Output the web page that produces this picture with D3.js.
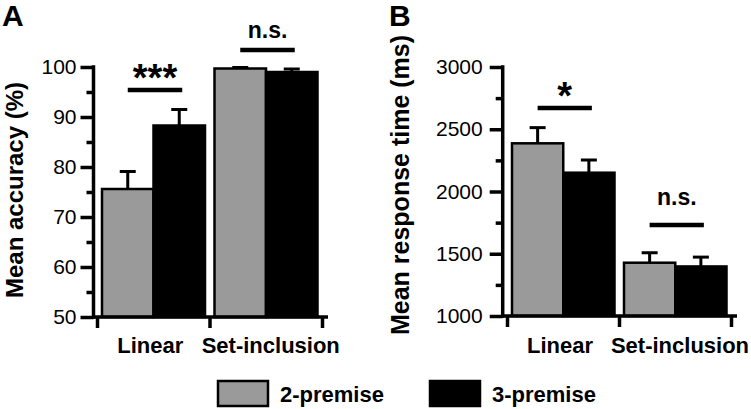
<!DOCTYPE html>
<html><head><meta charset="utf-8">
<script src="https://cdn.jsdelivr.net/npm/d3@7"></script>
<style>
html,body{margin:0;padding:0;background:#fff;}
svg{display:block;font-family:"Liberation Sans",Arial,Helvetica,sans-serif;}
</style></head>
<body>
<svg id="chart" width="751" height="409"></svg>
<script>
// ---- data ----
const categories = ["Linear", "Set-inclusion"];
const seriesNames = ["2-premise", "3-premise"];
const seriesColors = ["#9a9a9a", "#000000"];

const accuracyMean = [[75.6, 99.7], [88.3, 99.0]];   // [series][category]
const accuracySem  = [[3.5, 0.2], [3.2, 0.6]];
const accuracyTicks = [50, 60, 70, 80, 90, 100];
const accuracyMinor = [55, 65, 75, 85, 95];

const rtMean = [[2387, 1428], [2151, 1398]];
const rtSem  = [[126, 80], [102, 75]];
const rtTicks = [1000, 1500, 2000, 2500, 3000];
const rtMinor = [1250, 1750, 2250, 2750];

const accuracySigLabels = ["***", "n.s."];
const accuracySigLevel  = [95.4, 103.4];
const rtSigLabels = ["*", "n.s."];
const rtSigLevel  = [2671, 1731];

// ---- drawing ----
const svg = d3.select("#chart");

const panels = [
  {letter: "A", letterX: 2, title: "Mean accuracy (%)", titleX: 23, titleY: 190, titleSize: 24,
   domain: [50, 100], yRange: [317, 67], axisX: 93.5, groupRange: [97, 322], xEnd: 328,
   ticks: accuracyTicks, minor: accuracyMinor, mean: accuracyMean, sem: accuracySem,
   sigLabels: accuracySigLabels, sigLevel: accuracySigLevel, labelPad: 4,
   labelDx: [-3, 5]},
  {letter: "B", letterX: 389, title: "Mean response time (ms)", titleX: 409, titleY: 185, titleSize: 25,
   domain: [1000, 3000], yRange: [316, 67], axisX: 502.7, groupRange: [507, 731], xEnd: 737,
   ticks: rtTicks, minor: rtMinor, mean: rtMean, sem: rtSem,
   sigLabels: rtSigLabels, sigLevel: rtSigLevel, labelPad: 7,
   labelDx: [-3, 5]}
];

panels.forEach(p => {
  const g = svg.append("g");
  const y = d3.scaleLinear().domain(p.domain).range(p.yRange);
  const gx = d3.scaleBand().domain(categories).range(p.groupRange).padding(0);
  const sx = d3.scaleBand().domain(seriesNames).range([5, gx.bandwidth() - 4.5]).padding(0);

  // panel letter
  g.append("text").attr("x", p.letterX).attr("y", 26)
    .attr("font-size", 30).attr("font-weight", "bold").text(p.letter);

  // y title
  g.append("text")
    .attr("transform", `translate(${p.titleX},${p.titleY}) rotate(-90)`)
    .attr("text-anchor", "middle").attr("font-size", p.titleSize).attr("font-weight", "bold")
    .text(p.title);

  // bars
  seriesNames.forEach((s, si) => {
    const bars = g.append("g");
    categories.forEach((c, ci) => {
      const x0 = gx(c) + sx(s);
      const v = p.mean[si][ci];
      bars.append("rect")
        .attr("x", x0).attr("y", y(v))
        .attr("width", sx.bandwidth()).attr("height", y(p.domain[0]) - y(v))
        .attr("fill", seriesColors[si]).attr("stroke", "#000").attr("stroke-width", 2.5);
      const cx = x0 + sx.bandwidth() / 2;
      const top = y(v + p.sem[si][ci]);
      bars.append("line").attr("x1", cx).attr("x2", cx).attr("y1", y(v)).attr("y2", top)
        .attr("stroke", "#000").attr("stroke-width", 3);
      bars.append("line").attr("x1", cx - 8).attr("x2", cx + 8).attr("y1", top).attr("y2", top)
        .attr("stroke", "#000").attr("stroke-width", 3);
    });
  });

  // y axis
  const yAxis = d3.axisLeft(y).tickValues(p.ticks).tickSize(13).tickPadding(p.labelPad)
    .tickFormat(d3.format("d"));
  const ya = g.append("g").attr("transform", `translate(${p.axisX},0)`).call(yAxis);
  ya.select(".domain").remove();
  ya.selectAll(".tick line").attr("stroke-width", 3.5);
  ya.selectAll(".tick text").attr("font-size", 21).attr("font-family", "Liberation Sans, Arial, sans-serif").attr("fill", "#000");
  const yMinor = d3.axisLeft(y).tickValues(p.minor).tickSize(7).tickFormat("");
  const ym = g.append("g").attr("transform", `translate(${p.axisX},0)`).call(yMinor);
  ym.select(".domain").remove();
  ym.selectAll(".tick line").attr("stroke-width", 3.5);
  g.append("line").attr("x1", p.axisX).attr("x2", p.axisX)
    .attr("y1", y(p.domain[1]) - 1.75).attr("y2", y(p.domain[0]) + 1.75)
    .attr("stroke", "#000").attr("stroke-width", 3.5);

  // x axis
  const base = y(p.domain[0]);
  g.append("line").attr("x1", p.axisX).attr("x2", p.xEnd).attr("y1", base).attr("y2", base)
    .attr("stroke", "#000").attr("stroke-width", 3.5);
  const bounds = d3.scaleLinear().domain([0, categories.length]).range(p.groupRange);
  const xAxis = d3.axisBottom(bounds).tickValues(d3.range(categories.length + 1))
    .tickSize(11).tickFormat("");
  const xa = g.append("g").attr("transform", `translate(0,${base})`).call(xAxis);
  xa.select(".domain").remove();
  xa.selectAll(".tick line").attr("stroke-width", 3.5);
  categories.forEach((c, ci) => {
    g.append("text").attr("x", gx(c) + gx.bandwidth() / 2 + p.labelDx[ci]).attr("y", 353)
      .attr("text-anchor", "middle").attr("font-size", 22).attr("font-weight", "bold").text(c);
  });

  // significance
  categories.forEach((c, ci) => {
    const xa1 = gx(c) + sx(seriesNames[0]) + sx.bandwidth() / 2;
    const xa2 = gx(c) + sx(seriesNames[1]) + sx.bandwidth() / 2 + 3;
    const ly = y(p.sigLevel[ci]);
    g.append("line").attr("x1", xa1).attr("x2", xa2).attr("y1", ly).attr("y2", ly)
      .attr("stroke", "#000").attr("stroke-width", 4.5);
    const lab = p.sigLabels[ci];
    const isStar = lab.indexOf("*") === 0;
    g.append("text").attr("x", (xa1 + xa2) / 2)
      .attr("y", isStar ? ly + 1 : ly - (p.letter === "A" ? 12 : 20))
      .attr("text-anchor", "middle").attr("font-weight", "bold")
      .attr("font-size", isStar ? 38 : 23).text(lab);
  });
});

// legend
const legendX = [218, 430];
seriesNames.forEach((s, i) => {
  svg.append("rect").attr("x", legendX[i]).attr("y", 381).attr("width", 50).attr("height", 25)
    .attr("fill", seriesColors[i]).attr("stroke", "#000").attr("stroke-width", 2.5);
  svg.append("text").attr("x", legendX[i] + 62).attr("y", 402)
    .attr("font-size", 22).attr("font-weight", "bold").text(s);
});
</script>
</body></html>
